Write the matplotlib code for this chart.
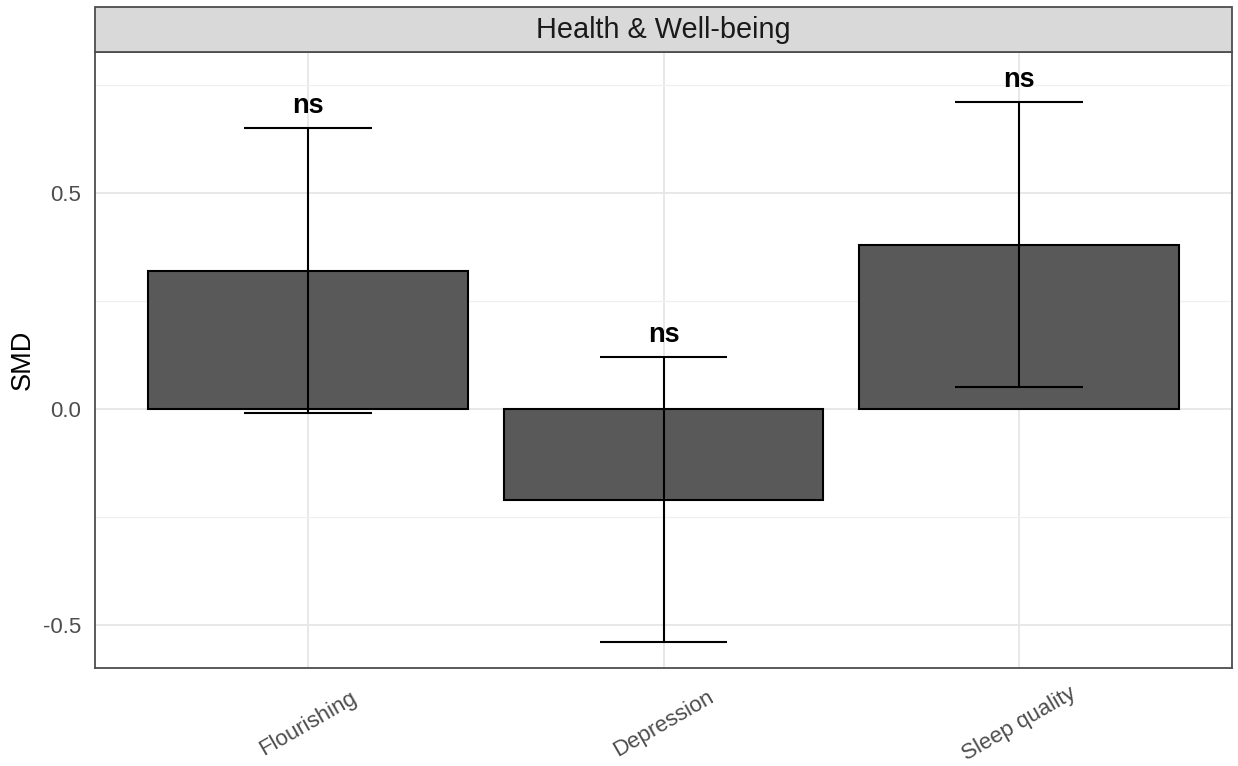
import matplotlib.pyplot as plt
from matplotlib.patches import Rectangle

plt.rcParams['font.family'] = ['Liberation Sans', 'DejaVu Sans']

# Data
outcomes = ["Flourishing", "Depression", "Sleep quality"]
smd = [0.32, -0.21, 0.38]
ci_low = [-0.01, -0.54, 0.05]
ci_high = [0.65, 0.12, 0.71]
sig_labels = ["ns", "ns", "ns"]
panel_title = "Health & Well-being"

W, H = 1238, 766
fig = plt.figure(figsize=(W / 100, H / 100), dpi=100)
ax = fig.add_axes([95 / W, 1 - 668 / H, (1232 - 95) / W, (668 - 52) / H])

x = list(range(1, len(outcomes) + 1))
ax.bar(x, smd, width=0.9, color="#595959", edgecolor="black", linewidth=1.5, zorder=3)
ax.errorbar(x, smd, yerr=[[m - lo for m, lo in zip(smd, ci_low)],
                          [hi - m for m, hi in zip(smd, ci_high)]],
            fmt="none", ecolor="black", elinewidth=1.5, capsize=0, zorder=4)
# caps drawn as horizontal lines so the width is in data units
ax.hlines(ci_low, [i - 0.18 for i in x], [i + 0.18 for i in x], color="black", lw=1.5, zorder=4)
ax.hlines(ci_high, [i - 0.18 for i in x], [i + 0.18 for i in x], color="black", lw=1.5, zorder=4)

for xi, hi, lab in zip(x, ci_high, sig_labels):
    ax.text(xi, hi + 0.02, lab, ha="center", va="bottom", fontsize=19.5, fontweight="bold", zorder=5)

ax.set_xlim(0.4, 3.6)
ax.set_ylim(-0.6, 0.826)
ax.set_yticks([-0.5, 0.0, 0.5])
ax.set_yticklabels(["-0.5", "0.0", "0.5"])
ax.set_yticks([-0.25, 0.25, 0.75], minor=True)
ax.set_xticks(x)
ax.set_xticklabels(outcomes, rotation=30, ha="center", va="center")
ax.tick_params(axis="both", which="both", length=0, labelsize=16, labelcolor="#4D4D4D")
ax.tick_params(axis="x", pad=40)
ax.tick_params(axis="y", pad=10)

ax.grid(True, which="major", color="#E6E6E6", lw=1.3, zorder=0)
ax.grid(True, which="minor", axis="y", color="#F0F0F0", lw=0.9, zorder=0)
ax.set_axisbelow(True)
for s in ax.spines.values():
    s.set_color("#4D4D4D")
    s.set_linewidth(1.3)

ax.set_ylabel("SMD", fontsize=19.5, labelpad=5)

# facet strip
strip = Rectangle((95 / W, 1 - 52 / H), (1232 - 95) / W, 45 / H, transform=fig.transFigure,
                  facecolor="#D9D9D9", edgecolor="#4D4D4D", lw=1.3)
fig.patches.append(strip)
fig.text((95 + 1232) / 2 / W, 1 - 30 / H, panel_title, ha="center", va="center",
         fontsize=20.8, color="#1A1A1A")

fig.savefig("out.png", dpi=100)
